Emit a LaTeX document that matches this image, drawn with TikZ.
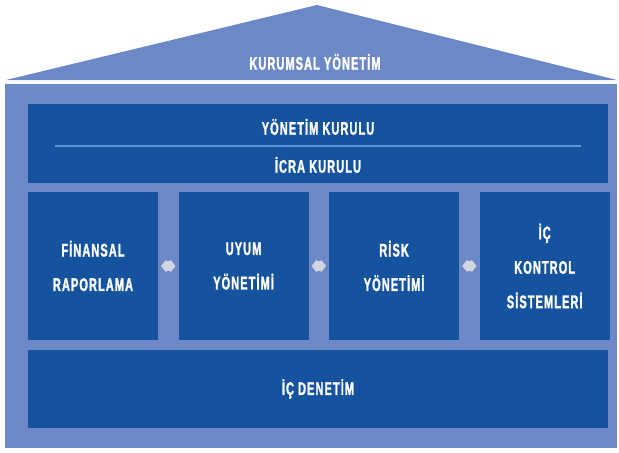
\documentclass[tikz,border=0pt]{standalone}
\usepackage{fontspec}
\newfontfamily\housefont[FakeStretch=0.6,LetterSpace=6,FakeBold=1.5]{Liberation Sans}
\usetikzlibrary{arrows.meta,positioning}
\definecolor{roofblue}{HTML}{6C88C6}
\definecolor{boxblue}{HTML}{15539F}
\definecolor{lineblue}{HTML}{5C93DA}
\definecolor{linkgrey}{HTML}{D2D6E2}

\begin{document}
\begin{tikzpicture}[x=0.25mm, y=-0.25mm, node distance=5mm,
  panel/.style={fill=boxblue, minimum width=32.5mm, minimum height=37mm, inner sep=0pt},
  band/.style={fill=boxblue, minimum width=145mm, inner sep=0pt},
  txt/.style={text=white, font=\housefont\bfseries\fontsize{13}{24.5}\selectfont, align=center},
  link/.style={{Triangle[length=1.3mm,width=3.2mm]}-{Triangle[length=1.3mm,width=3.2mm]},
    line width=2.6mm, linkgrey, shorten <=0.7mm, shorten >=0.7mm}]
\useasboundingbox (0,0) rectangle (619,452);
% roof and walls
\fill[roofblue] (6,80) -- (317,5) -- (617,80) -- cycle;
\fill[roofblue] (5,84) rectangle (617,448);
\node[txt] (title) at (315,62) {KURUMSAL YÖNETİM};
% boards
\node[band, minimum height=19.75mm] (boards) at (318,143.5) {};
\node[txt] (yk) at (318,127) {YÖNETİM KURULU};
\node[txt] (ik) at (318,165) {İCRA KURULU};
\draw[lineblue, line width=0.5mm] ([xshift=6.75mm,yshift=-0.6mm]boards.west) -- ([xshift=-6.75mm,yshift=-0.6mm]boards.east);
% pillars
\node[panel, txt] (fin) at (93,266) {FİNANSAL\\RAPORLAMA};
\node[panel, txt, right=of fin] (uyum) {UYUM\\YÖNETİMİ};
\node[panel, txt, right=of uyum] (risk) {RİSK\\YÖNETİMİ};
\node[panel, txt, right=of risk] (kontrol) {İÇ\\KONTROL\\SİSTEMLERİ};
\draw[link] (fin) -- (uyum);
\draw[link] (uyum) -- (risk);
\draw[link] (risk) -- (kontrol);
% base
\node[band, txt, minimum height=19.5mm] (audit) at (318,389) {İÇ DENETİM};
\end{tikzpicture}
\end{document}
